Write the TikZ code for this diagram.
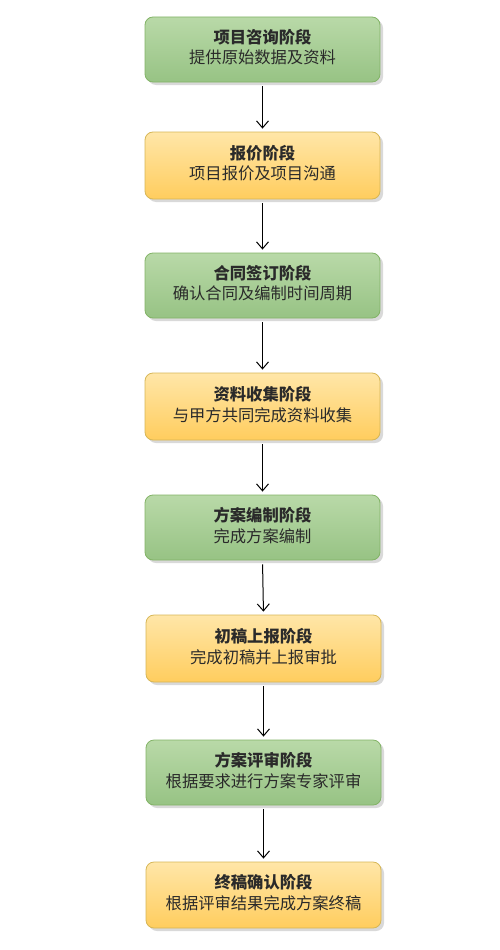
\documentclass[tikz,border=0pt]{standalone}
\usepackage{fontspec}
\setmainfont{Noto Sans CJK SC}
\usetikzlibrary{arrows.meta,shadows}
\definecolor{gtop}{HTML}{B9D9A8}
\definecolor{gbot}{HTML}{97C384}
\definecolor{gbrd}{HTML}{82B366}
\definecolor{ytop}{HTML}{FFE6A8}
\definecolor{ybot}{HTML}{FFCD5E}
\definecolor{ybrd}{HTML}{D6B656}
\definecolor{txt}{HTML}{2A2A2A}
\tikzset{
  stagebox/.style={rounded corners=8pt, line width=0.8pt, minimum width=235pt,
    inner sep=0pt, align=center, text=txt, font=\fontsize{16.3}{19}\selectfont,
    drop shadow={shadow xshift=3pt, shadow yshift=-3pt, opacity=0.3, fill=gray}},
  greenbox/.style={stagebox, draw=gbrd, top color=gtop, bottom color=gbot},
  yellowbox/.style={stagebox, draw=ybrd, top color=ytop, bottom color=ybot},
  flow/.style={-{Straight Barb[length=7pt,width=12pt]}, line width=1pt, black, shorten <=4pt, shorten >=3pt}
}
\newcommand{\stagetext}[2]{\raisebox{5.5pt}{\begin{tabular}{@{}c@{}}\textbf{#1}\\[1pt]#2\end{tabular}}}
\begin{document}
\begin{tikzpicture}[x=1pt,y=-1pt]
\useasboundingbox (0,0) rectangle (499,950);
\node[greenbox, minimum height=65pt] (b1) at (262.5,49.5) {\stagetext{项目咨询阶段}{提供原始数据及资料}};
\node[yellowbox, minimum height=67pt] (b2) at (262.5,165.5) {\stagetext{报价阶段}{项目报价及项目沟通}};
\node[greenbox, minimum height=65pt] (b3) at (262.5,285.5) {\stagetext{合同签订阶段}{确认合同及编制时间周期}};
\node[yellowbox, minimum height=67pt] (b4) at (262.5,406.5) {\stagetext{资料收集阶段}{与甲方共同完成资料收集}};
\node[greenbox, minimum height=65pt] (b5) at (262.5,527.5) {\stagetext{方案编制阶段}{完成方案编制}};
\node[yellowbox, minimum height=67pt] (b6) at (263.5,648.5) {\stagetext{初稿上报阶段}{完成初稿并上报审批}};
\node[greenbox, minimum height=65pt] (b7) at (263.5,772.5) {\stagetext{方案评审阶段}{根据要求进行方案专家评审}};
\node[yellowbox, minimum height=66pt] (b8) at (263.5,895) {\stagetext{终稿确认阶段}{根据评审结果完成方案终稿}};
\draw[flow] (b1.south) -- (b2.north);
\draw[flow] (b2.south) -- (b3.north);
\draw[flow] (b3.south) -- (b4.north);
\draw[flow] (b4.south) -- (b5.north);
\draw[flow] (b5.south) -- (b6.north);
\draw[flow] (b6.south) -- (b7.north);
\draw[flow] (b7.south) -- (b8.north);
\end{tikzpicture}
\end{document}
